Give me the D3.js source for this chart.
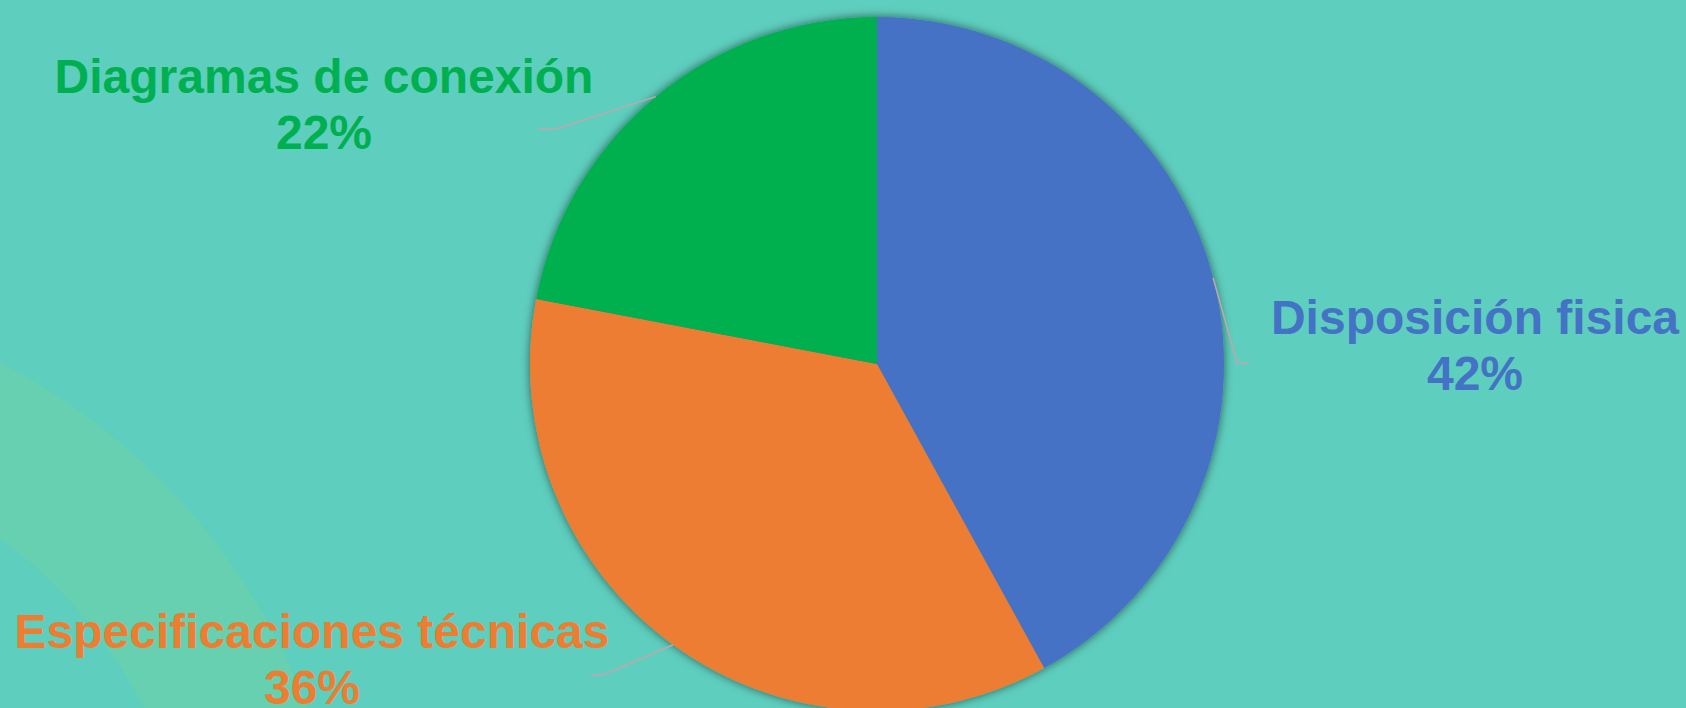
<!DOCTYPE html>
<html>
<head>
<meta charset="utf-8">
<script src="https://cdn.jsdelivr.net/npm/d3@7"></script>
<style>
  html, body { margin: 0; padding: 0; background: #5ecebe; overflow: hidden; }
  text { font-family: "Liberation Sans", Arial, sans-serif; font-weight: bold; }
</style>
</head>
<body>
<div id="chart"></div>
<script>
// data
var categories = ["Disposición fisica", "Especificaciones técnicas", "Diagramas de conexión"];
var shares = [42, 36, 22];
var sliceColors = ["#4472c4", "#ed7d31", "#00b050"];

var svgWidth = 1686;
var svgHeight = 708;

var cx = 877, cy = 364, radius = 347;

// label layout: leader bend / end points and text centre, per category
var labelLayout = {
  "Disposición fisica":        { bend: [1237, 363], end: [1249, 363], text: [1475, 334] },
  "Especificaciones técnicas": { bend: [603, 675],  end: [591, 675],  text: [312, 648] },
  "Diagramas de conexión":     { bend: [556, 129],  end: [538, 129],  text: [324, 93] }
};

var data = categories.map(function(c, i) {
  return { name: c, value: shares[i], color: sliceColors[i] };
});

var svg = d3.select("#chart")
  .append("svg")
  .attr("width", svgWidth)
  .attr("height", svgHeight);

var defs = svg.append("defs");
var shadow = defs.append("filter")
  .attr("id", "pieShadow")
  .attr("x", "-20%").attr("y", "-20%")
  .attr("width", "140%").attr("height", "140%");
shadow.append("feDropShadow")
  .attr("dx", 0).attr("dy", 0)
  .attr("stdDeviation", 5)
  .attr("flood-color", "#000")
  .attr("flood-opacity", 0.55);

// background
svg.append("rect")
  .attr("width", svgWidth)
  .attr("height", svgHeight)
  .attr("fill", "#5ecebe");

// decorative ring bottom-left
var ring = d3.arc()
  .innerRadius(490)
  .outerRadius(640)
  .startAngle(0)
  .endAngle(2 * Math.PI);
svg.append("path")
  .attr("transform", "translate(-292, 932)")
  .attr("d", ring())
  .attr("fill", "#66d0b0");

var pie = d3.pie()
  .sort(null)
  .value(function(d) { return d.value; });

var arcs = pie(data);

var arc = d3.arc()
  .innerRadius(0)
  .outerRadius(radius);

var edgeArc = d3.arc()
  .innerRadius(radius)
  .outerRadius(radius);

var chartGroup = svg.append("g")
  .attr("transform", `translate(${cx}, ${cy})`);

var pieGroup = chartGroup.append("g")
  .attr("filter", "url(#pieShadow)");

pieGroup.selectAll("path")
  .data(arcs)
  .enter()
  .append("path")
  .attr("d", arc)
  .attr("fill", function(d) { return d.data.color; });

// leader lines
svg.selectAll("polyline.leader")
  .data(arcs)
  .enter()
  .append("polyline")
  .attr("class", "leader")
  .attr("fill", "none")
  .attr("stroke", "#c3a5ad")
  .attr("stroke-width", 1.5)
  .attr("points", function(d) {
    var c = edgeArc.centroid(d);
    var l = labelLayout[d.data.name];
    return [[cx + c[0], cy + c[1]], l.bend, l.end].map(function(p) { return p.join(","); }).join(" ");
  });

// labels
var labels = svg.selectAll("text.label")
  .data(arcs)
  .enter()
  .append("text")
  .attr("class", "label")
  .attr("text-anchor", "middle")
  .attr("font-size", 48)
  .attr("fill", function(d) { return d.data.color; });

labels.append("tspan")
  .attr("x", function(d) { return labelLayout[d.data.name].text[0]; })
  .attr("y", function(d) { return labelLayout[d.data.name].text[1]; })
  .text(function(d) { return d.data.name; });

labels.append("tspan")
  .attr("x", function(d) { return labelLayout[d.data.name].text[0]; })
  .attr("dy", 56)
  .text(function(d) { return d.data.value + "%"; });
</script>
</body>
</html>
